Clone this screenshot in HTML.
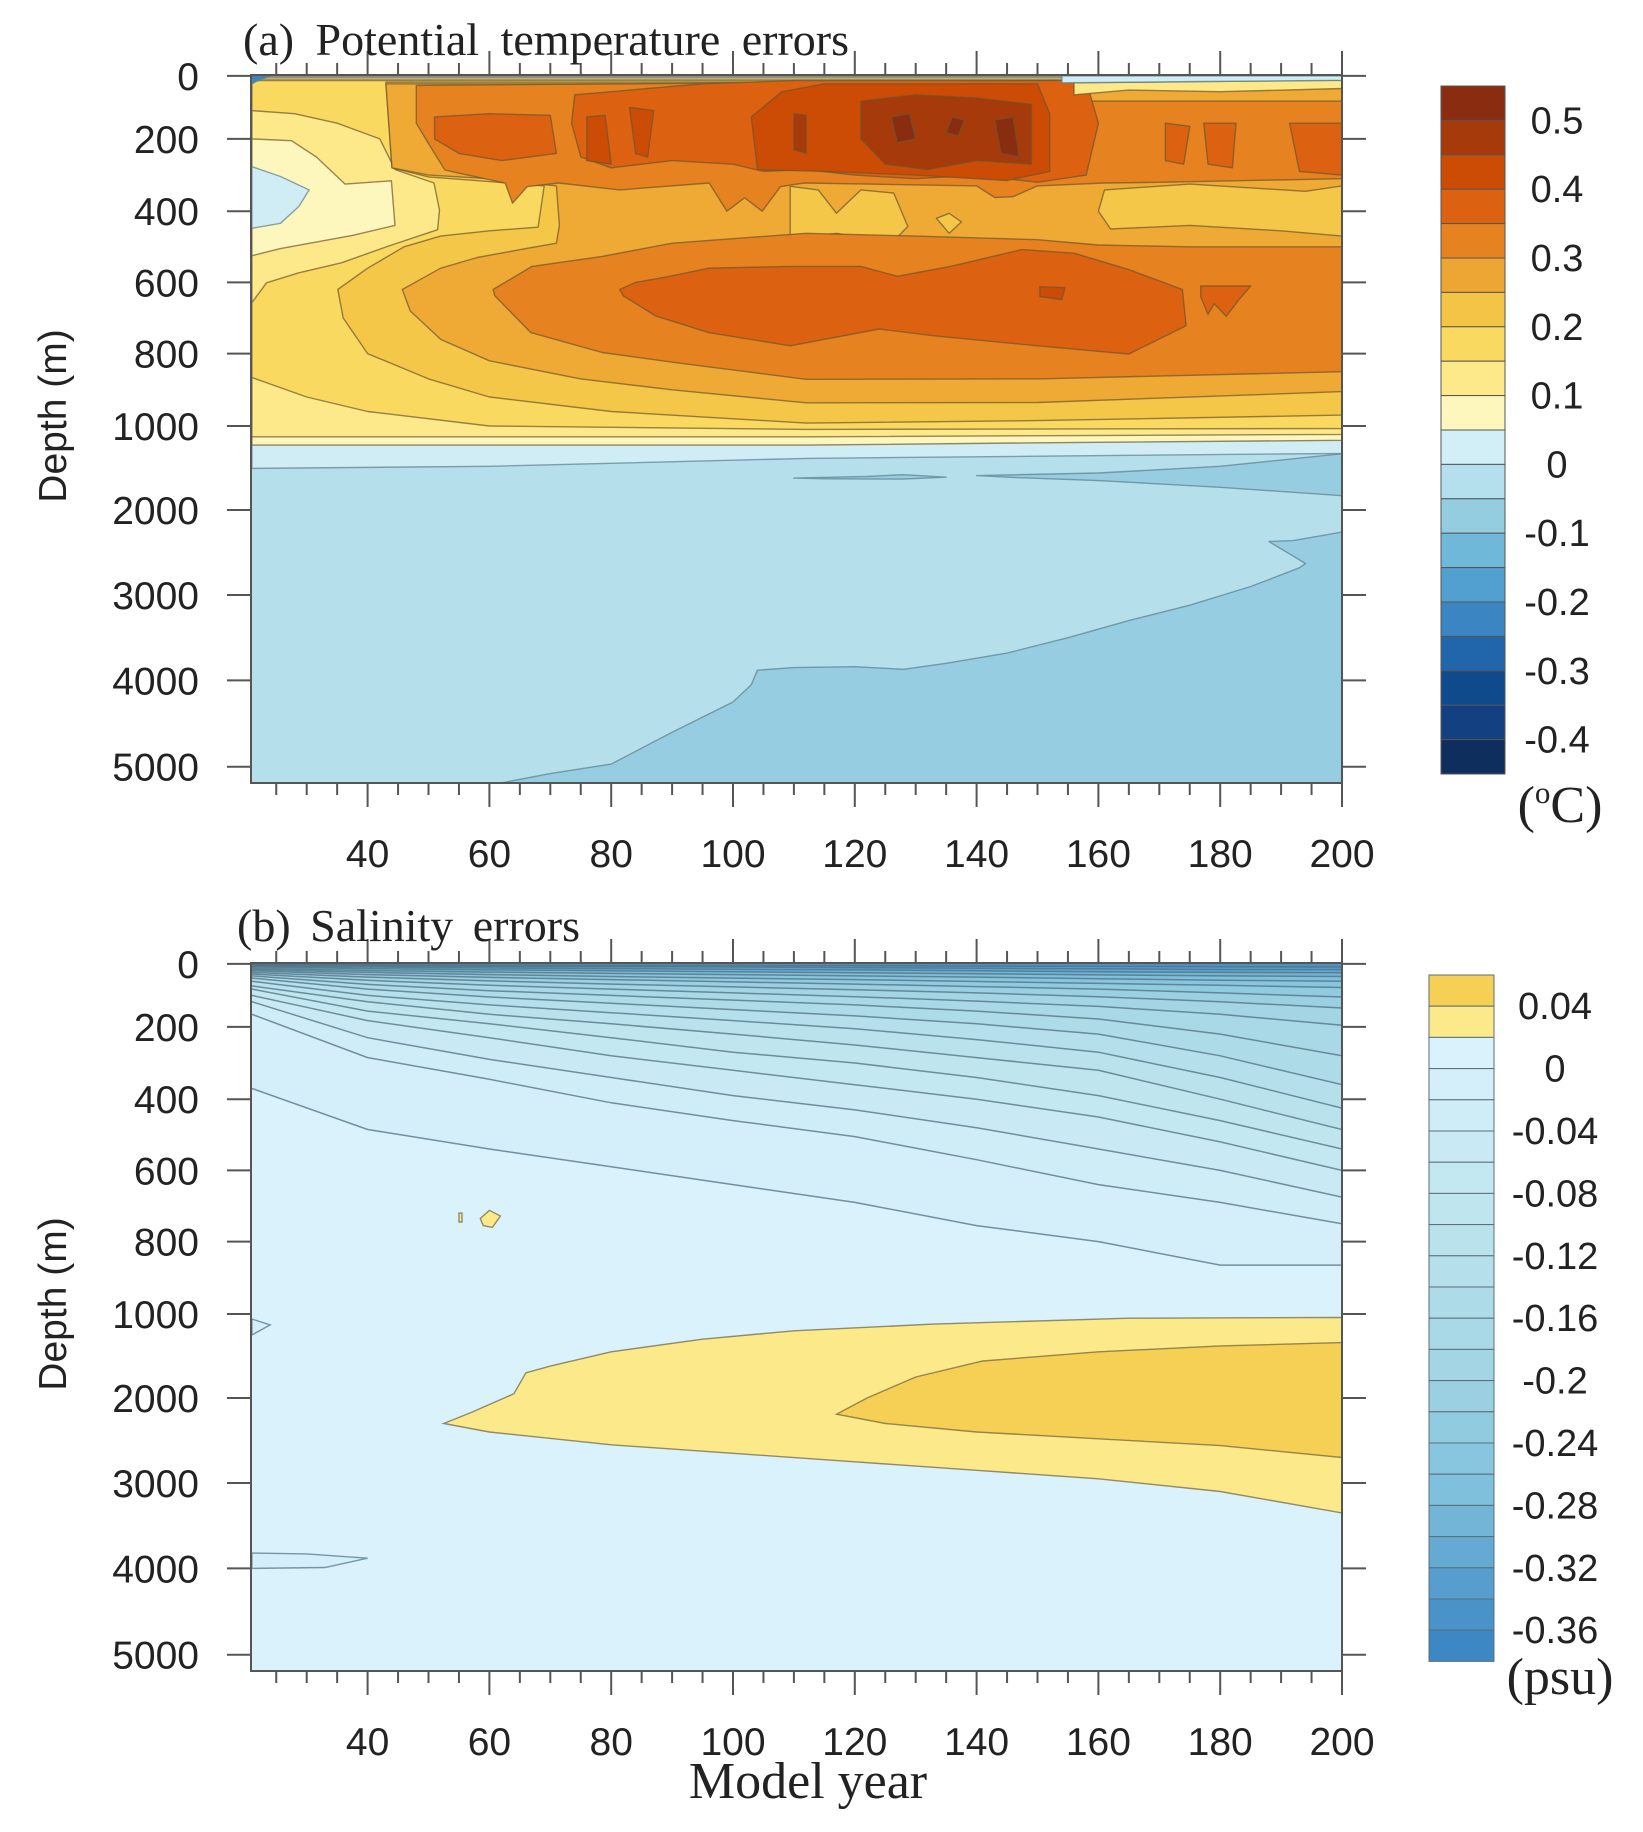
<!DOCTYPE html>
<html><head><meta charset="utf-8"><style>
html,body{margin:0;padding:0;background:#fff}
svg{display:block}
.tk{font-family:"Liberation Sans",sans-serif;font-size:39px;fill:#222}
.cb{font-family:"Liberation Sans",sans-serif;font-size:38px;fill:#222}
.sf{font-family:"Liberation Serif",serif;fill:#222}
</style></head><body>
<svg id="fig" xmlns="http://www.w3.org/2000/svg" width="1643" height="1832" viewBox="0 0 1643 1832">
<defs>
<clipPath id="clipA"><rect x="251" y="75" width="1091" height="708"/></clipPath>
<clipPath id="clipB"><rect x="251" y="963" width="1091" height="708"/></clipPath>
</defs>
<g id="panelA"></g>
<g id="panelB"></g>
<text class="sf" x="243" y="55" font-size="46" word-spacing="10">(a) Potential temperature errors</text>
<text class="sf" x="237" y="941" font-size="46" word-spacing="8">(b) Salinity errors</text>
<text class="tk" transform="translate(66,416) rotate(-90)" text-anchor="middle" font-size="50">Depth (m)</text>
<text class="tk" transform="translate(66,1304) rotate(-90)" text-anchor="middle" font-size="50">Depth (m)</text>
<text class="sf" x="808" y="1798" text-anchor="middle" font-size="52">Model year</text>
<text class="sf" x="1560" y="822" text-anchor="middle" font-size="52">(<tspan font-size="31" dy="-19">o</tspan><tspan dy="19">C)</tspan></text>
<text class="sf" x="1560" y="1694" text-anchor="middle" font-size="52">(psu)</text>
</svg>
<script>
// ---------- data ----------
const xTickYears = [40,60,80,100,120,140,160,180,200];
const depthTicks = [0,200,400,600,800,1000,2000,3000,4000,5000];
const tempCbarLabels = ["0.5","0.4","0.3","0.2","0.1","0","-0.1","-0.2","-0.3","-0.4"];
const salCbarLabels = ["0.04","0","-0.04","-0.08","-0.12","-0.16","-0.2","-0.24","-0.28","-0.32","-0.36"];
const tDeep = [[61,5200],[70,5080],[80,4970],[90,4600],[100,4250],[103,4050],[104,3880],[110,3850],[120,3840],[128,3870],[135,3800],[145,3680],[155,3500],[165,3300],[175,3120],[185,2900],[193,2680],[194,2630],[188,2370],[192,2360],[200,2260],[200,5200]];
const tWedge = [[140,1590],[160,1560],[180,1480],[200,1330],[200,1830],[180,1730],[160,1650],[145,1610]];
const tLens = [[110,1620],[122,1600],[128,1580],[135,1610],[128,1632],[115,1628]];
const tL0 = [[21,0],[200,0],[200,1326],[150,1360],[112,1386],[60,1480],[21,1505]];
const tL05 = [[21,4],[200,4],[200,1170],[150,1200],[112,1227],[21,1227]];
const tL10 = [[21,10],[200,10],[200,1100],[112,1128],[21,1128]];
const tPale = [[21,200],[27.5,205],[31.6,250],[36.3,325],[43.9,316],[44.5,440],[37.5,468],[25.7,505],[21,525]];
const tBlue = [[21,277],[25.7,304],[30.4,341],[28.7,387],[25.7,434],[21,448]];
const tL15 = [[21,657],[23.4,601],[28.7,573],[35.7,545],[43.3,499],[51.5,452],[51.8,397],[50.9,322],[44.5,285],[42,200],[35,150],[28,120],[21,110],[21,15],[200,15],[200,1030],[112,1040],[60,1000],[40,960],[30,920],[21,866]];
const tL20 = [[35.1,620],[40,560],[46,500],[52,470],[60,455],[68,445],[69,330],[60,318],[50,305],[44,280],[43,20],[200,20],[200,970],[150,985],[112,992],[80,960],[60,920],[50,870],[40,800],[36,700]];
const tP25 = [[43,25],[200,25],[200,330],[194,345],[175,325],[161,341],[160,400],[162,450],[175,440],[190,455],[200,470],[200,905],[150,935],[112,936],[90,900],[75,870],[60,820],[52,760],[47,680],[45.7,620],[52,560],[58,530],[66,505],[71,490],[71.5,440],[71,330],[60,310],[50,300],[44,280]];
const tPatch1 = [[109.4,331],[114,341],[117,406],[121,341],[126.4,350],[128.7,443],[126,490],[117,462],[109.4,480]];
const tPatch2 = [[133.4,420],[135.5,406],[137.5,430],[135.5,462]];
const tP30 = [[60.6,620],[67,555],[78.5,527],[90,490],[112,462],[130,470],[150,480],[160,495],[175,500],[200,500],[200,850],[150,870],[112,871],[90.2,824],[78.5,797],[66.8,741],[60.9,638]];
const tU30 = [[48,30],[153,15],[156,80],[200,80],[200,310],[170,320],[161,322],[150,330],[146,360],[143,362],[140,330],[111.7,322],[107.8,332],[104.8,400],[101.9,363],[99,400],[96.1,322],[81.4,341],[71.4,322],[66.2,332],[63.8,378],[62.6,322],[55,295],[52.7,286],[50.3,221],[48,150]];
const tP35 = [[81.4,620],[84,600],[89,585],[96,560],[109.4,555],[121,555],[127,583],[135.7,555],[147.4,508],[156,518],[165,564],[173.8,620],[174.4,722],[165,801],[150,778],[133,750],[124,731],[109.4,778],[96,741],[87.3,694],[82,638]];
const tW35 = [[176.8,610],[185,610],[183,650],[181,695],[179,660],[178,690],[176.8,640]];
const tU35 = [[74,60],[95,25],[110,15],[158,15],[160,150],[158,300],[150,320],[140,300],[130,310],[120,300],[112,285],[105,290],[100,270],[90,260],[80,280],[75,250],[73.5,150]];
const tA35 = [[51,130],[60,120],[70,125],[71,240],[62,260],[55,240],[51,200]];
const tB35 = [[171,150],[175,160],[174,270],[171,260]];
const tC35 = [[177.3,150],[182.6,150],[182,280],[178,270]];
const tD35 = [[191.4,150],[200,150],[200,300],[193,290]];
const tU40 = [[103,130],[108,50],[115,25],[150,25],[152,120],[152,290],[145,315],[130,300],[115,290],[104,285]];
const tA40 = [[76,130],[79,125],[80,270],[76,260]];
const tB40 = [[83,100],[87,110],[86,250],[84,240]];
const tC40 = [[150.4,612],[154.5,615],[154,648],[150.4,640]];
const tU45 = [[121,80],[130,60],[140,70],[149,90],[149,270],[140,260],[132,285],[125,270],[121,200]];
const tS45 = [[110,120],[112,125],[112,240],[110,230]];
const tS50a = [[126,130],[129,120],[130,200],[127,210]];
const tS50b = [[143,140],[146,130],[147,250],[144,240]];
const tS50c = [[136,130],[138,140],[137,190],[135,180]];
const tSurf = [[154,0],[200,0],[200,14],[175,18],[154,22]];
const tSurfY = [[156,22],[200,14],[200,40],[180,50],[165,45],[156,60]];
const tCorner = [[21,0],[24,0],[22,15],[21,25]];
const tempRegions = [
 [-0.1,tDeep],[-0.1,tWedge],[-0.1,tLens],[0,tL0],[0.05,tL05],[0.1,tL10],[0.05,tPale],[0,tBlue],
 [0.15,tL15],[0.2,tL20],[0.25,tP25],[0.2,tPatch1],[0.2,tPatch2],[0.3,tP30],[0.3,tU30],
 [0.35,tP35],[0.35,tW35],[0.35,tU35],[0.35,tA35],[0.35,tB35],[0.35,tC35],[0.35,tD35],
 [0.4,tU40],[0.4,tA40],[0.4,tB40],[0.4,tC40],[0.45,tU45],[0.45,tS45],
 [0.5,tS50a],[0.5,tS50b],[0.5,tS50c],[0.1,tSurfY],[0,tSurf],[-0.3,tCorner]
];
const salYears = [21,40,60,80,100,120,140,160,180,200];
const salLevels = [-0.02,-0.04,-0.06,-0.08,-0.1,-0.12,-0.14,-0.16,-0.18,-0.2,-0.22,-0.24,-0.26,-0.28,-0.3,-0.32,-0.34,-0.36];
const salDepths = [
 [370,485,540,590,640,690,755,800,865,865],
 [160,285,345,410,460,505,570,640,690,750],
 [120,230,290,340,390,430,480,540,600,675],
 [100,180,230,280,320,360,400,450,520,600],
 [80,150,190,230,270,300,340,390,460,540],
 [70,120,160,190,220,250,285,320,400,485],
 [55,100,130,155,180,205,235,270,340,425],
 [45,80,105,125,145,165,190,220,280,360],
 [38,65,85,100,115,130,150,175,220,280],
 [32,52,68,80,92,104,118,135,160,195],
 [27,42,54,64,73,82,92,104,120,140],
 [22,34,43,50,57,64,72,80,92,105],
 [18,27,34,40,45,50,56,62,68,75],
 [14,21,26,30,34,38,42,47,52,55],
 [10,15,19,22,25,28,31,35,38,40],
 [7,10,13,15,17,19,22,25,27,28],
 [4,6,8,9,10,12,14,16,18,18],
 [2,3,4,5,5,6,7,8,9,10]
];
const sYel02 = [[52.5,2300],[57,2170],[64,1950],[66,1700],[70,1620],[80,1450],[95,1300],[110,1200],[133,1120],[165,1050],[200,1040],[200,3350],[180,3100],[160,2950],[140,2850],[120,2750],[100,2650],[80,2550],[60,2400]];
const sYel04 = [[117,2190],[122,2000],[130,1750],[141,1560],[160,1450],[180,1380],[200,1340],[200,2700],[180,2560],[160,2480],[140,2400],[125,2300]];
const sBlob = [[58.5,735],[60,712],[61.8,728],[60.5,760],[59,755]];
const sBlobSmall = [[55,720],[55.5,720],[55.5,745],[55,745]];
const sWedge1 = [[21,1060],[24,1130],[21,1250]];
const sWedge2 = [[21,3820],[30,3830],[40,3880],[33,3990],[21,4000]];

// ---------- styling ----------
const tempColors = {"-0.3":"#3b86c2","-0.1":"#97cde0","-0.05":"#b5dfeb","0":"#d0edf6","0.05":"#fef7bd","0.1":"#fde98a","0.15":"#f9d95f","0.2":"#f4c748","0.25":"#eeaa35","0.3":"#e6821f","0.35":"#dc6212","0.4":"#cc4c06","0.45":"#a63a0a","0.5":"#8a2c0f"};
const tempCbarColors = ["#8a2c0f","#a63a0a","#cc4c06","#dc6212","#e6821f","#eda534","#f3c446","#f9d95f","#fde98a","#fef7bd","#d2eef7","#b3e0ec","#95cde0","#6fb8da","#52a0d0","#3b86c2","#2166aa","#0f4a8d","#134080","#0e2e5e"];
function lerpCol(a,b,t){const pa=[1,3,5].map(i=>parseInt(a.substr(i,2),16)),pb=[1,3,5].map(i=>parseInt(b.substr(i,2),16));return "rgb("+pa.map((v,i)=>Math.round(v+(pb[i]-v)*t)).join(",")+")";}
const salStops=[[0,"#d9f2fb"],[5,"#bfe5ef"],[10,"#a3d5e4"],[14,"#7fc0dc"],[19,"#3d88c4"]];
function salColor(k){
  for(let i=0;i<salStops.length-1;i++){
    const a=salStops[i],b=salStops[i+1];
    if(k<=b[0]) return lerpCol(a[1],b[1],(k-a[0])/(b[0]-a[0]));
  }
  return salStops[salStops.length-1][1];
}
const NS="http://www.w3.org/2000/svg";
const svg=document.getElementById('fig');
const DY=[75.9,138.9,211.2,282.4,353.6,426,510,595,680.4,766.7];
function xS(yr){return 367.6+(yr-40)*6.09;}
function yS(d,off){
  let y;
  if(d<=depthTicks[0]) y=DY[0]+(d)*0.3;
  else if(d>=5000) y=DY[9]+(d-5000)*0.0863;
  else{for(let i=0;i<9;i++){if(d<=depthTicks[i+1]){y=DY[i]+(d-depthTicks[i])/(depthTicks[i+1]-depthTicks[i])*(DY[i+1]-DY[i]);break;}}}
  return y+off;
}
function mk(tag,attrs,parent){const e=document.createElementNS(NS,tag);for(const k in attrs)e.setAttribute(k,attrs[k]);(parent||svg).appendChild(e);return e;}
function ptsStr(arr,off){return arr.map(p=>xS(p[0]).toFixed(1)+","+yS(p[1],off).toFixed(1)).join(" ");}

function drawAxes(g,off,tag){
  const top=75+off,bot=783+off,L=251,R=1342;
  for(let yr=25;yr<=200;yr+=5){
    const x=xS(yr),maj=(yr%20===0);
    const len=maj?24:12;
    const t1=mk('line',{x1:x,x2:x,y1:bot,y2:bot+len,stroke:'#555','stroke-width':2},g);
    
    
    const t2=mk('line',{x1:x,x2:x,y1:top,y2:top-len,stroke:'#555','stroke-width':2},g);
    
    
  }
  xTickYears.forEach(yr=>{
    const t=mk('text',{x:xS(yr),y:bot+84,'text-anchor':'middle',class:'tk'},g);
    t.textContent=yr;
    
    
  });
  depthTicks.forEach(d=>{
    const y=yS(d,off);
    const a=mk('line',{x1:L-24,x2:L,y1:y,y2:y,stroke:'#555','stroke-width':2},g);
    
    
    const b=mk('line',{x1:R,x2:R+24,y1:y,y2:y,stroke:'#555','stroke-width':2},g);
    
    
    const t=mk('text',{x:199,y:y+14,'text-anchor':'end',class:'tk'},g);
    t.textContent=d;
    
    
  });
  const fr=mk('rect',{x:L,y:top,width:R-L,height:bot-top,fill:'none',stroke:'#555','stroke-width':2},g);
  
  
}

// ---------- panel A ----------
const gA=document.getElementById('panelA');
const cA=mk('g',{'clip-path':'url(#clipA)'},gA);
const bgA=mk('rect',{x:251,y:75,width:1091,height:708,fill:tempColors["-0.05"]},cA);


tempRegions.forEach(r=>{
  const lev=r[0];
  const p=mk('polygon',{points:ptsStr(r[1],0),fill:tempColors[String(lev)],stroke:lev<0.05?'#5b7f8c':'#6b5530','stroke-opacity':0.7,'stroke-width':1.4,'stroke-linejoin':'round'},cA);
  
  
});
drawAxes(gA,0,'a');
const cbA=mk('g',{},gA);


tempCbarColors.forEach((c,i)=>{
  const r=mk('rect',{x:1441,y:86+i*34.4,width:64,height:34.4,fill:c,stroke:'#555','stroke-width':1},cbA);
  
  
});
tempCbarLabels.forEach((s,i)=>{
  const t=mk('text',{x:1557,y:86+(1+2*i)*34.4+13,'text-anchor':'middle',class:'cb'},cbA);
  t.textContent=s;
  
  
});

// ---------- panel B ----------
const OFF=888;
const gB=document.getElementById('panelB');
const cB=mk('g',{'clip-path':'url(#clipB)'},gB);
const bgB=mk('rect',{x:251,y:963,width:1091,height:710,fill:salColor(0)},cB);


salLevels.forEach((lev,k)=>{
  const row=salDepths[k];
  const pts=[[salYears[0],-50]].concat(salYears.map((yr,j)=>[yr,row[j]])).concat([[salYears[salYears.length-1],-50]]);
  const p=mk('polygon',{points:ptsStr(pts,OFF),fill:salColor(k+1),stroke:'none'},cB);
  
  
  const l=mk('polyline',{points:ptsStr(salYears.map((yr,j)=>[yr,row[j]]),OFF),fill:'none',stroke:'#4f6f80','stroke-opacity':0.75,'stroke-width':1.5},cB);
  
  
});
[[0.02,sYel02],[0.04,sYel04],[0.02,sBlob],[0.02,sBlobSmall]].forEach(r=>{
  const p=mk('polygon',{points:ptsStr(r[1],OFF),fill:r[0]>0.03?'#f6cf55':'#fce98a',stroke:'#6b6040','stroke-opacity':0.7,'stroke-width':1.4},cB);
  
  
});
[sWedge1,sWedge2].forEach(w=>{
  const p=mk('polygon',{points:ptsStr(w,OFF),fill:salColor(1),stroke:'#4f6f80','stroke-opacity':0.7,'stroke-width':1.4},cB);
  
  
});
drawAxes(gB,OFF,'b');
const cbB=mk('g',{},gB);


for(let i=0;i<22;i++){
  const c=i===0?'#f6cf55':(i===1?'#fce98a':salColor(i-2));
  const r=mk('rect',{x:1429,y:975+i*31.2,width:65,height:31.2,fill:c,stroke:'#5a6e78','stroke-width':1},cbB);
  
  
}
salCbarLabels.forEach((s,i)=>{
  const t=mk('text',{x:1555,y:975+(1+2*i)*31.2+13,'text-anchor':'middle',class:'cb'},cbB);
  t.textContent=s;
  
  
});
</script>
</body></html>
